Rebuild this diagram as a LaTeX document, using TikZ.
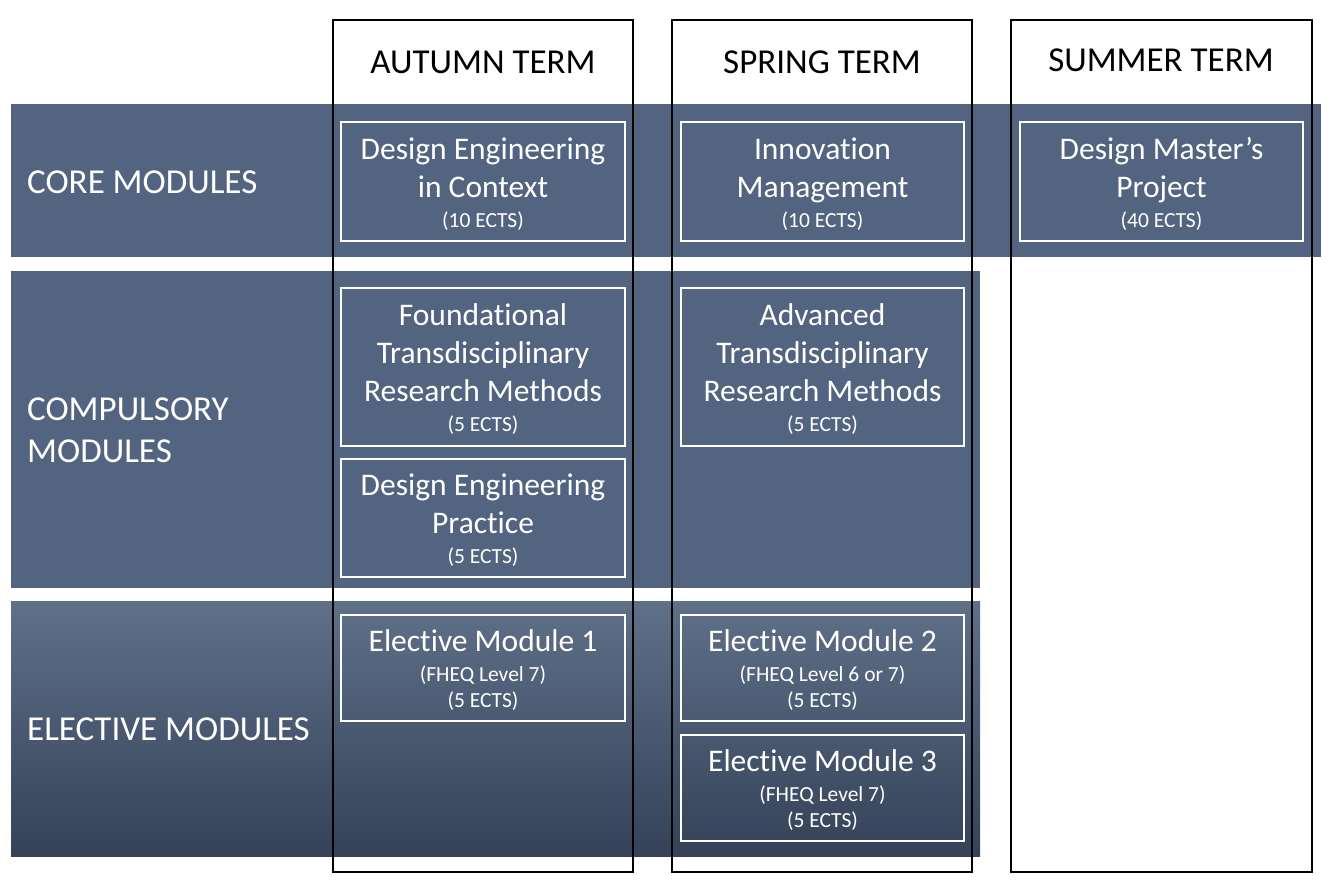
\documentclass[tikz,border=0pt]{standalone}
\usepackage{fontspec}
\setmainfont{Carlito}[Ligatures={NoCommon}]
\definecolor{band}{RGB}{82,100,128}
\definecolor{eltop}{RGB}{95,112,137}
\definecolor{elbot}{RGB}{53,66,88}
\tikzset{
  term/.style={draw=black,line width=2pt},
  termlabel/.style={font=\fontsize{35}{42}\selectfont,text=black,inner sep=0pt},
  rowlabel/.style={font=\fontsize{35}{42}\selectfont,text=white,inner sep=0pt,anchor=west,align=left},
  modbox/.style={draw=white,line width=2pt,text=white,anchor=north west,inner sep=0pt,align=center,
    font=\fontsize{31.5}{38}\selectfont},
}
\newcommand{\smalltxt}[1]{{\fontsize{21.5}{26}\selectfont #1}}
\newcommand{\topstrut}{\rule{0pt}{27.5pt}}
\begin{document}
\begin{tikzpicture}[x=1pt,y=-1pt]
\useasboundingbox (0,0) rectangle (1335,886);
% bands
\fill[band] (11,104) rectangle (1321,257);
\fill[band] (11,271) rectangle (980,588);
\shade[top color=eltop,bottom color=elbot] (11,601) rectangle (980,856);
% term columns
\draw[term] (333,20) rectangle (633,872);
\draw[term] (672,20) rectangle (972,872);
\draw[term] (1011,20) rectangle (1312,872);
\node[termlabel] (tA) at (483,62) {AUTUMN TERM};
\node[termlabel] (tS) at (822,62) {SPRING TERM};
\node[termlabel] (tU) at (1161,60) {SUMMER TERM};
% row labels
\node[rowlabel] (rC) at (27,182) {CORE MODULES};
\node[rowlabel] (rP) at (27,430) {COMPULSORY\\MODULES};
\node[rowlabel] (rE) at (27,729) {ELECTIVE MODULES};
% modules
\node[modbox,minimum width=284pt,minimum height=119pt] (m1) at (340,120.5)
  {\topstrut Design Engineering\\in Context\\[-8pt]\smalltxt{(10 ECTS)}};
\node[modbox,minimum width=283pt,minimum height=119pt] (m2) at (680,120.5)
  {\topstrut Innovation\\Management\\[-8pt]\smalltxt{(10 ECTS)}};
\node[modbox,minimum width=283pt,minimum height=119pt] (m3) at (1019,120.5)
  {\topstrut Design Master’s\\Project\\[-8pt]\smalltxt{(40 ECTS)}};
\node[modbox,minimum width=284pt,minimum height=158pt] (m4) at (340,286.5)
  {\topstrut Foundational\\Transdisciplinary\\Research Methods\\[-8pt]\smalltxt{(5 ECTS)}};
\node[modbox,minimum width=283pt,minimum height=158pt] (m5) at (680,286.5)
  {\topstrut Advanced\\Transdisciplinary\\Research Methods\\[-8pt]\smalltxt{(5 ECTS)}};
\node[modbox,minimum width=284pt,minimum height=118pt] (m6) at (340,457.5)
  {\topstrut Design Engineering\\Practice\\[-8pt]\smalltxt{(5 ECTS)}};
\node[modbox,minimum width=284pt,minimum height=106pt] (m7) at (340,613.5)
  {\topstrut Elective Module 1\\[-8pt]\smalltxt{(FHEQ Level 7)}\\[-12pt]\smalltxt{(5 ECTS)}};
\node[modbox,minimum width=283pt,minimum height=106pt] (m8) at (680,613.5)
  {\topstrut Elective Module 2\\[-8pt]\smalltxt{(FHEQ Level 6 or 7)}\\[-12pt]\smalltxt{(5 ECTS)}};
\node[modbox,minimum width=283pt,minimum height=106pt] (m9) at (680,733.5)
  {\topstrut Elective Module 3\\[-8pt]\smalltxt{(FHEQ Level 7)}\\[-12pt]\smalltxt{(5 ECTS)}};
\end{tikzpicture}
\end{document}
